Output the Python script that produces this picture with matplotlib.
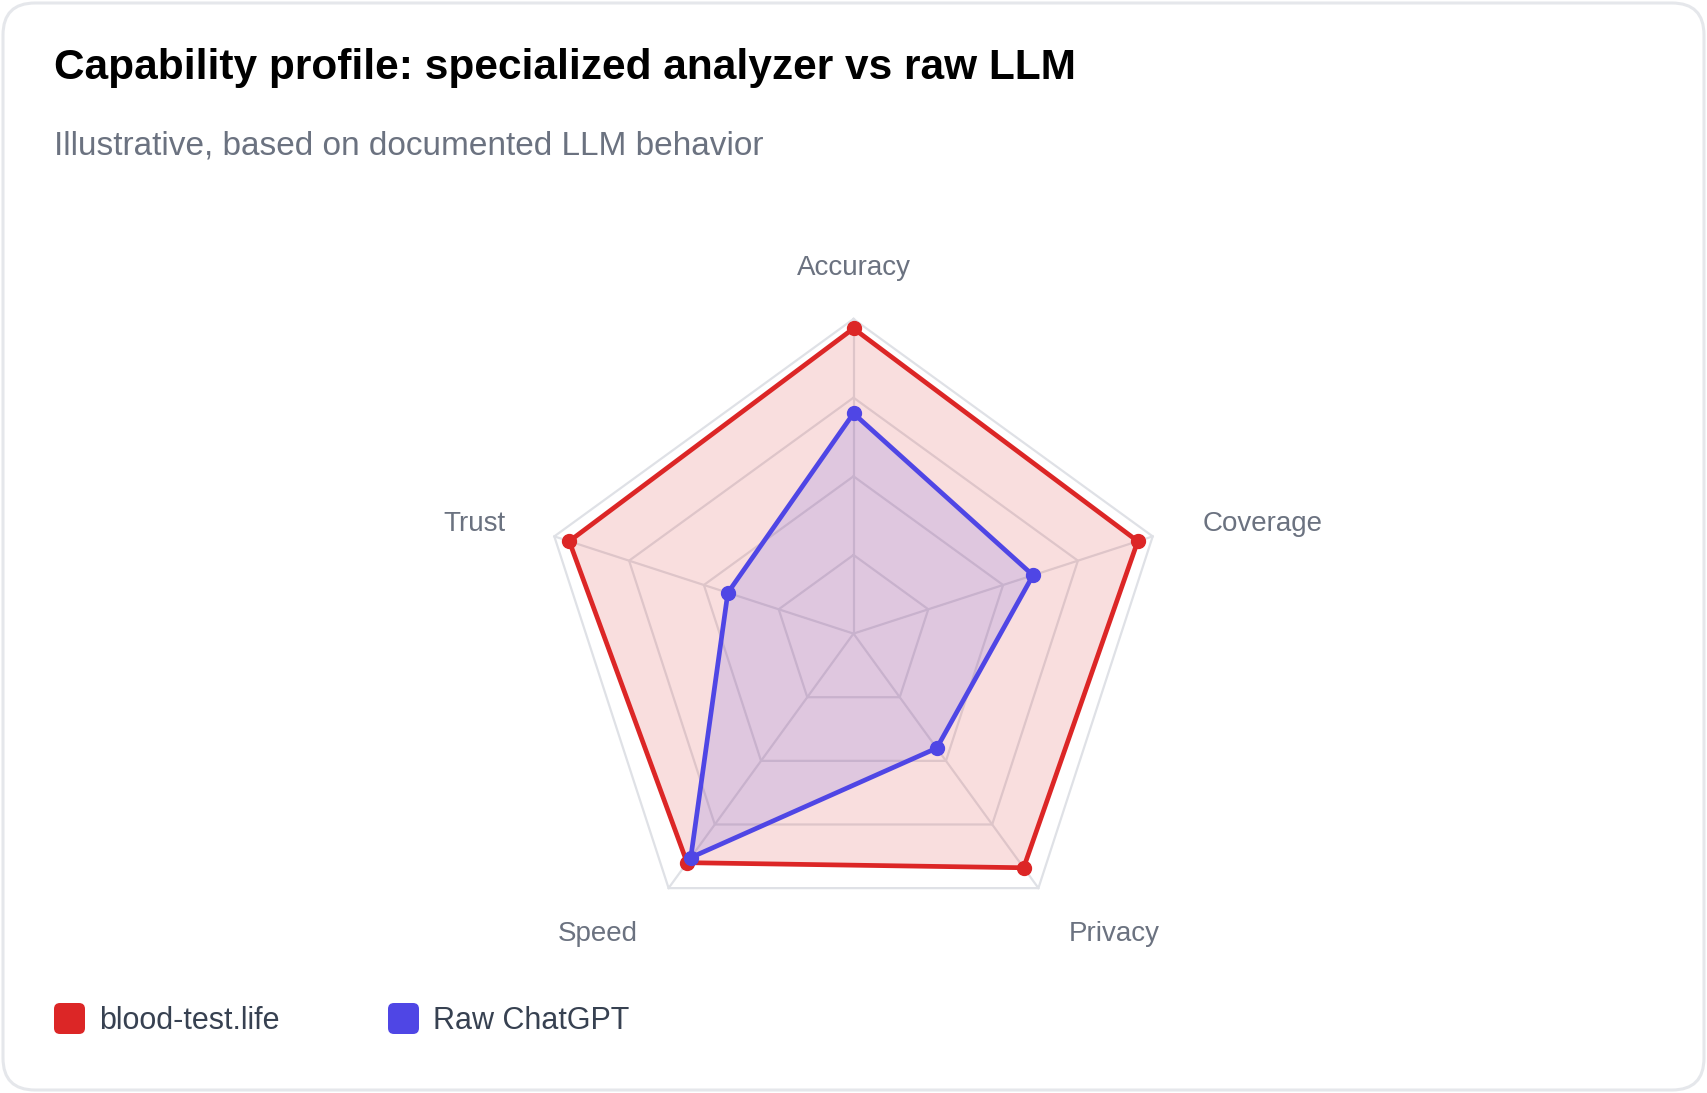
import numpy as np
import matplotlib
matplotlib.use("Agg")
import matplotlib.pyplot as plt
from matplotlib.patches import FancyBboxPatch

plt.rcParams['font.family'] = ['Liberation Sans', 'DejaVu Sans']

# data
categories = ["Accuracy", "Coverage", "Privacy", "Speed", "Trust"]
series_names = ["blood-test.life", "Raw ChatGPT"]
specialized = [97, 95, 92, 90, 95]
raw_llm = [70, 60, 45, 88, 42]
ring_ticks = [25, 50, 75, 100]
max_value = 100

colors = ["#dc2626", "#4f46e5"]
grid_color = "#dfe1e6"
label_color = "#6b7280"

W, H, DPI = 1707, 1093, 100
fig = plt.figure(figsize=(W / DPI, H / DPI), dpi=DPI)
fig.patch.set_facecolor("white")

# card background
bg = fig.add_axes([0, 0, 1, 1])
bg.set_xlim(0, W); bg.set_ylim(H, 0); bg.axis("off")
bg.add_patch(FancyBboxPatch((3, 3), W - 6, H - 6, boxstyle="round,pad=0,rounding_size=32",
                            fc="white", ec="#e5e7eb", lw=2.2))
bg.text(54, 68, "Capability profile: specialized analyzer vs raw LLM", fontsize=30.5,
        fontweight="bold", color="#000000", va="center", ha="left")
bg.text(54, 146, "Illustrative, based on documented LLM behavior", fontsize=24,
        color=label_color, va="center", ha="left")

# legend
leg_x = [54, 388]
for i, name in enumerate(series_names):
    bg.add_patch(FancyBboxPatch((leg_x[i], 1003), 31, 31, boxstyle="round,pad=0,rounding_size=6",
                                fc=colors[i], ec="none"))
    bg.text(leg_x[i] + 45, 1021, name, fontsize=22, color="#374151", va="center", ha="left")

# radar axes, placed so center/radius match the card layout
cx, cy, R = 853.5, 633.6, 314.6
span = 1.4
side = 2 * span * R
ax = fig.add_axes([(cx - side / 2) / W, (H - cy - side / 2) / H, side / W, side / H])
ax.set_xlim(-span, span); ax.set_ylim(-span, span); ax.axis("off")

n = len(categories)
angles = np.pi / 2 - 2 * np.pi * np.arange(n) / n

def to_xy(vals):
    r = np.asarray(vals, dtype=float) / max_value
    x = r * np.cos(angles); y = r * np.sin(angles)
    return np.append(x, x[0]), np.append(y, y[0])

for t in ring_ticks:
    gx, gy = to_xy([t] * n)
    ax.plot(gx, gy, color=grid_color, lw=1.6, zorder=1)
for a in angles:
    ax.plot([0, np.cos(a)], [0, np.sin(a)], color=grid_color, lw=1.6, zorder=1)

for vals, c in zip([specialized, raw_llm], colors):
    x, y = to_xy(vals)
    ax.fill(x, y, color=c, alpha=0.15, lw=0, zorder=2)
    ax.plot(x, y, color=c, lw=3.4, zorder=3)
    ax.plot(x[:-1], y[:-1], "o", color=c, ms=10, zorder=4)

# category labels
lr = 1.13
for a, lab in zip(angles, categories):
    x, y = lr * np.cos(a), lr * np.sin(a)
    if abs(np.cos(a)) < 1e-6:
        ha, va = "center", "bottom"
        y -= 0.008
    elif y < -0.5:
        ha, va = ("left" if x > 0 else "right"), "top"
        x += 0.02 if x > 0 else -0.02
    else:
        ha, va = ("left" if x > 0 else "right"), "center"
        x += 0.035 if x > 0 else -0.03
    ax.text(x, y, lab, fontsize=20, color=label_color, ha=ha, va=va)

fig.savefig("out.png", dpi=DPI, facecolor="white")
